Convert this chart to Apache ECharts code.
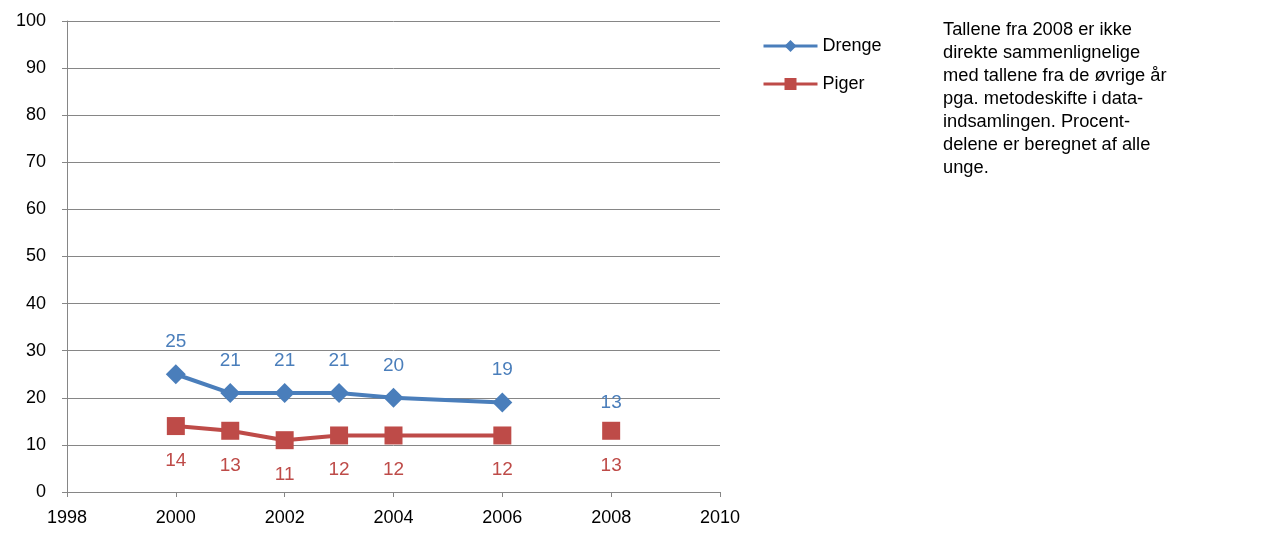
<!DOCTYPE html>
<html><head><meta charset="utf-8">
<script src="https://cdn.jsdelivr.net/npm/echarts@6/dist/echarts.min.js"></script>
<style>html,body{margin:0;padding:0;background:#fff}#c{width:1266px;height:536px}</style>
</head><body><div id="c"></div>
<script>
const years = [2000, 2001, 2002, 2003, 2004, 2006, 2008];
const drenge = [25, 21, 21, 21, 20, 19, 13];
const piger = [14, 13, 11, 12, 12, 12, 13];
const gapYear = 2007; // break between 2006 and 2008 (method change)
const note = ['Tallene fra 2008 er ikke', 'direkte sammenlignelige', 'med tallene fra de øvrige år', 'pga. metodeskifte i data-', 'indsamlingen. Procent-', 'delene er beregnet af alle', 'unge.'];

const FONT = '"Liberation Sans", Arial, sans-serif';
function build(vals) {
  const out = [];
  years.forEach((y, i) => {
    if (y === 2008) out.push([gapYear, '-']);
    out.push([y, vals[i]]);
  });
  return out;
}
const dData = build(drenge).map(p => p[0] === 2008 ? {value: p, symbolSize: 12} : p);
const pData = build(piger);

const chart = echarts.init(document.getElementById('c'));
chart.setOption({
  animation: false,
  grid: {left: 67, right: 546, top: 21, bottom: 44},
  xAxis: {
    type: 'value', min: 1998, max: 2010, interval: 2,
    axisLine: {lineStyle: {color: '#868686', width: 1}},
    axisTick: {show: true, length: 5, lineStyle: {color: '#868686'}},
    axisLabel: {color: '#000', fontSize: 18, fontFamily: FONT, margin: 17, formatter: v => String(v)},
    splitLine: {show: false}
  },
  yAxis: {
    type: 'value', min: 0, max: 100, interval: 10,
    axisLine: {show: true, lineStyle: {color: '#868686', width: 1}},
    axisTick: {show: true, length: 5, lineStyle: {color: '#868686'}},
    axisLabel: {color: '#000', fontSize: 18, fontFamily: FONT, margin: 21},
    splitLine: {lineStyle: {color: '#868686', width: 1}}
  },
  legend: {
    orient: 'vertical', left: 757, top: 32, itemWidth: 54, itemHeight: 15, itemGap: 20,
    textStyle: {fontSize: 18, fontFamily: FONT, color: '#000'},
    lineStyle: {width: 3},
    data: ['Drenge', 'Piger']
  },
  graphic: [{
    type: 'text', left: 943, top: 18,
    style: {text: note.join('\n'), fontSize: 18.3, lineHeight: 23, fontFamily: FONT, fill: '#000'}
  }],
  series: [
    {
      name: 'Drenge', type: 'line', data: dData, connectNulls: false,
      symbol: 'diamond', symbolSize: 20,
      lineStyle: {color: '#4A7EBB', width: 4},
      itemStyle: {color: '#4A7EBB'},
      label: {show: true, position: 'top', distance: 13, color: '#4A7EBB', fontSize: 19, fontFamily: FONT}
    },
    {
      name: 'Piger', type: 'line', data: pData, connectNulls: false,
      symbol: 'rect', symbolSize: 18,
      lineStyle: {color: '#BE4B48', width: 4},
      itemStyle: {color: '#BE4B48'},
      label: {show: true, position: 'bottom', distance: 16, color: '#BE4B48', fontSize: 19, fontFamily: FONT}
    }
  ]
});
</script></body></html>
